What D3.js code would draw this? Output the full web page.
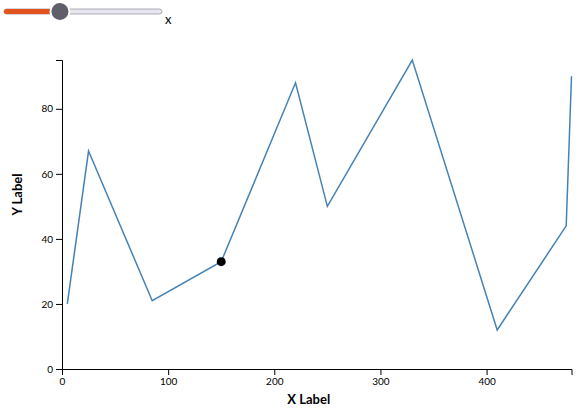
<!DOCTYPE html>
<html>
<head>
<meta charset="utf-8">
<script src="https://cdn.jsdelivr.net/npm/d3@7"></script>
<style>
  body { margin: 0; font-family: Lato, "Open Sans", sans-serif; }
  .tick text { font-size: 10px; font-family: Lato, sans-serif; }
  .lbl { font-size: 13px; font-weight: bold; }
</style>
</head>
<body>
<svg id="chart" width="586" height="414"></svg>
<script>
var xs = [5, 25, 85, 150, 220, 250, 330, 410, 475, 480];
var ys = [20, 67, 21, 33, 88, 50, 95, 12, 44, 90];
var selected = 3;

var margin = {top: 60, right: 14.5, bottom: 45, left: 62},
    width = 586 - margin.left - margin.right,
    height = 414 - margin.top - margin.bottom;

var svg = d3.select("#chart");

// slider
var sl = svg.append("g");
var sx = d3.scaleLinear().domain([0, 1]).range([5, 162]);
var frac = 0.35;
sl.append("rect").attr("x", 4).attr("y", 9).attr("width", 158).attr("height", 5).attr("rx", 2.5)
  .attr("fill", "#e8e6ee").attr("stroke", "#9a98a6").attr("stroke-width", 0.8);
sl.append("rect").attr("x", 4).attr("y", 9).attr("width", sx(frac) - 4).attr("height", 5).attr("rx", 2.5)
  .attr("fill", "#e2531d");
sl.append("circle").attr("cx", sx(frac)).attr("cy", 11.5).attr("r", 9.5)
  .attr("fill", "#5f5e6b").attr("stroke", "#fff").attr("stroke-width", 2);
sl.append("text").attr("x", 165).attr("y", 24).attr("font-size", 13).attr("font-family", "Lato, sans-serif").text("x");

var g = svg.append("g").attr("transform", "translate(" + margin.left + "," + margin.top + ")");
var x = d3.scaleLinear().domain([0, d3.max(xs)]).range([0, width]);
var y = d3.scaleLinear().domain([0, d3.max(ys)]).range([height, 0]);

g.append("g").attr("transform", "translate(0," + height + ")").call(d3.axisBottom(x).ticks(5));
g.append("g").call(d3.axisLeft(y).ticks(5));

var line = d3.line().x(function(d, i) { return x(xs[i]); }).y(function(d) { return y(d); });
g.append("path").datum(ys).attr("d", line).attr("fill", "none")
  .attr("stroke", "steelblue").attr("stroke-width", 1.5);

g.append("circle").attr("cx", x(xs[selected])).attr("cy", y(ys[selected])).attr("r", 4.5).attr("fill", "#000");

g.append("text").attr("class", "lbl").attr("x", width / 2 - 8).attr("y", height + 35)
  .attr("text-anchor", "middle").text("X Label");
g.append("text").attr("class", "lbl").attr("transform", "rotate(-90)")
  .attr("x", -height / 2 + 20).attr("y", -40).attr("text-anchor", "middle").text("Y Label");
</script>
</body>
</html>
